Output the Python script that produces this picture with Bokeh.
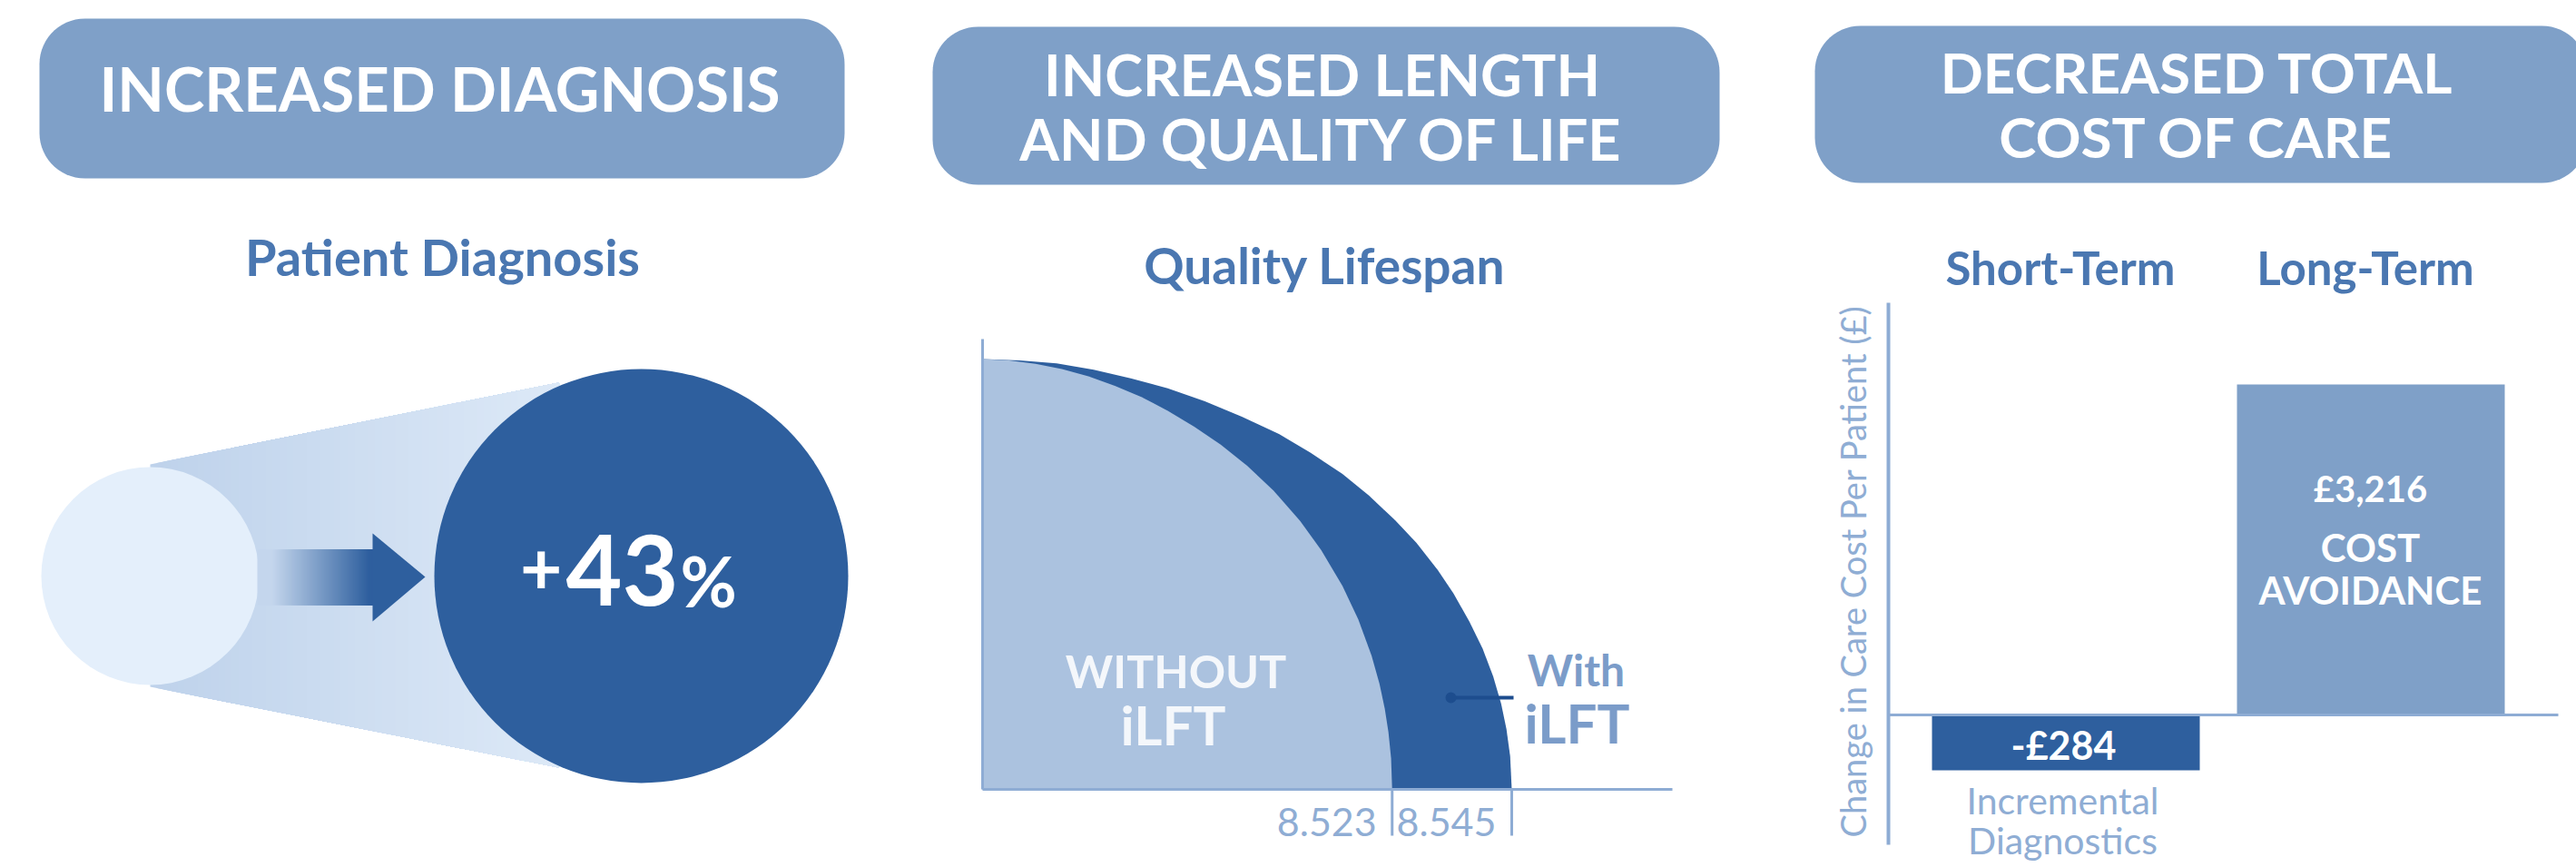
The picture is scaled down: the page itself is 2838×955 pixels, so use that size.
import numpy as np
from bokeh.plotting import figure
from bokeh.models import Range1d
from bokeh.core.properties import value
from bokeh.embed import file_html
from bokeh.resources import INLINE

# ---------------- data ----------------
header_lines = [["INCREASED DIAGNOSIS"],
                ["INCREASED LENGTH", "AND QUALITY OF LIFE"],
                ["DECREASED TOTAL", "COST OF CARE"]]

diagnosis_title = "Patient Diagnosis"
diagnosis_increase_pct = 43

lifespan_title = "Quality Lifespan"
lifespan_groups = ["WITHOUT", "With"]
lifespan_tool = "iLFT"
lifespan_years = [8.523, 8.545]
# survival-quality curves (share of time axis, share of quality axis)
without_t = [0.0, 0.05, 0.10, 0.15, 0.20, 0.25, 0.30, 0.35, 0.40, 0.45, 0.50, 0.55,
             0.60, 0.64, 0.68, 0.71, 0.735, 0.75, 0.76, 0.767, 0.772, 0.774]
without_q = [1.0, 0.997, 0.989, 0.977, 0.960, 0.938, 0.912, 0.880, 0.843, 0.801, 0.752, 0.694,
             0.624, 0.556, 0.473, 0.395, 0.311, 0.246, 0.188, 0.133, 0.072, 0.0]
with_t = [0.0, 0.07, 0.14, 0.21, 0.28, 0.35, 0.42, 0.49, 0.56, 0.62, 0.68, 0.73,
          0.78, 0.82, 0.86, 0.89, 0.92, 0.945, 0.965, 0.98, 0.99, 0.997, 1.0]
with_q = [1.0, 0.997, 0.990, 0.975, 0.955, 0.932, 0.902, 0.866, 0.826, 0.782, 0.733, 0.683,
          0.625, 0.573, 0.510, 0.455, 0.390, 0.327, 0.262, 0.199, 0.140, 0.077, 0.0]

cost_terms = ["Short-Term", "Long-Term"]
cost_values = [-284, 3216]
cost_notes = [["Incremental", "Diagnostics"], ["COST", "AVOIDANCE"]]
cost_axis_label = "Change in Care Cost Per Patient (£)"

# ---------------- styles & layout ----------------
W, H = 2838, 955
FONT = "Lato"
BOX = "#7fa0c8"
DARK = "#2e5f9e"
LIGHT_FILL = "#abc2df"
TITLE = "#4a77b1"
AXIS = "#8eacd4"
SOFT_TEXT = "#8fadd4"
WITH_TEXT = "#7b9cc9"
SMALL_CIRCLE = "#e4effb"
POINTER = "#1d4d8e"
CONE_L = np.array([190, 210, 235])
CONE_R = np.array([221, 233, 247])
ARROW_L = np.array([196, 214, 237])
ARROW_R = np.array([46, 95, 158])
MID = 0.37   # distance from baseline to the middle of the text box, in em


def hexc(rgb):
    r, g, b = [int(round(v)) for v in rgb]
    return "#%02x%02x%02x" % (r, g, b)


p = figure(width=W, height=H, x_range=Range1d(0, W), y_range=Range1d(0, H),
           output_backend="svg", toolbar_location=None, min_border=0,
           x_axis_location=None, y_axis_location=None)
p.grid.visible = False
p.outline_line_color = None
p.background_fill_color = "white"
p.border_fill_color = "white"


def Y(v):
    return H - v


def label(x, base_top, s, size, color, bold=True, align="center", angle=0.0, middle=None):
    """base_top: baseline position measured from the top of the picture."""
    y_top = middle if middle is not None else base_top - MID * size
    p.text(x=[x], y=[Y(y_top)], text=[s], text_font=value(FONT),
           text_font_size=f"{size}px",
           text_font_style="bold" if bold else "normal",
           text_color=color, text_align=align, text_baseline="middle",
           angle=angle)


def rounded_box(l, r, t, b, rad, n=16):
    top, bot = Y(t), Y(b)
    xs, ys = [], []
    for cx, cy, a0, a1 in [(r - rad, top - rad, 90, 0), (r - rad, bot + rad, 0, -90),
                           (l + rad, bot + rad, -90, -180), (l + rad, top - rad, 180, 90)]:
        a = np.radians(np.linspace(a0, a1, n))
        xs += list(cx + rad * np.cos(a))
        ys += list(cy + rad * np.sin(a))
    p.patch(xs, ys, fill_color=BOX, line_color=None)


# ---------------- header boxes ----------------
boxes = [(43, 930, 20, 196), (1027, 1894, 29, 203), (1999, 2850, 28, 201)]
centers = [484, 1456, 2420]
baselines = [[121], [104, 175], [101, 172]]
sizes = [67, 63, 62]
for (l, r, t, b), cx, bl, lines, sz in zip(boxes, centers, baselines, header_lines, sizes):
    rounded_box(l, r, t, b, 50)
    for yb, s in zip(bl, lines):
        label(cx, yb, s, sz, "white")

# ---------------- panel 1 : diagnosis ----------------
label(487, 303, diagnosis_title, 56, TITLE)

SMALL_C = (165, 634, 120)
BIG_C = (706, 634, 228)
cx0, cx1 = 165, 615
top0, top1 = 511, 421
bot0, bot1 = 756, 845
N = 60
cxs, cys, ccol = [], [], []
for i in range(N):
    f = i / N
    x0 = cx0 + (cx1 - cx0) * f
    yt = top0 + (top1 - top0) * f
    yb = bot0 + (bot1 - bot0) * f
    cxs.append([x0, cx1, BIG_C[0], cx1, x0])
    cys.append([Y(yt), Y(top1), Y(BIG_C[1]), Y(bot1), Y(yb)])
    ccol.append(hexc(CONE_L + (CONE_R - CONE_L) * f))
p.patches(cxs, cys, fill_color=ccol, line_color=None)

p.circle(x=[SMALL_C[0]], y=[Y(SMALL_C[1])], radius=SMALL_C[2],
         fill_color=SMALL_CIRCLE, line_color=None)

# arrow shaft with gradient
axs, ays, acol = [], [], []
for x0 in range(283, 411, 2):
    f = min(max((x0 - 298) / (405 - 298), 0.0), 1.0)
    axs.append([x0, 411, 411, x0])
    ays.append([Y(605), Y(605), Y(666), Y(666)])
    acol.append(hexc(ARROW_L + (ARROW_R - ARROW_L) * f))
p.patches(axs, ays, fill_color=acol, line_color=None)
p.patch([410, 468, 410], [Y(587), Y(635), Y(684)], fill_color=DARK, line_color=None)

p.circle(x=[BIG_C[0]], y=[Y(BIG_C[1])], radius=BIG_C[2], fill_color=DARK, line_color=None)
label(619, None, "+", 80, "white", align="right", middle=625)
label(623, 667, f"{diagnosis_increase_pct}", 107, "white", align="left")
label(749, 667, "%", 76, "white", align="left")

# ---------------- panel 2 : lifespan ----------------
label(1459, 312, lifespan_title, 55, TITLE)

LX0, LX1 = 1082, 1665      # px for t = 0 and t = 1
LY0, LY1 = 869, 395        # px (from top) for q = 0 and q = 1
sx = LX1 - LX0
sy = LY0 - LY1
p.extra_x_ranges = {"life_x": Range1d(-LX0 / sx, (W - LX0) / sx)}
p.extra_y_ranges = {"life_y": Range1d(-Y(LY0) / sy, (H - Y(LY0)) / sy)}

p.patch(with_t + [0.0], with_q + [0.0], fill_color=DARK, line_color=None,
        x_range_name="life_x", y_range_name="life_y")
p.patch(without_t + [0.0], without_q + [0.0], fill_color=LIGHT_FILL, line_color=None,
        x_range_name="life_x", y_range_name="life_y")

p.line([0, 0], [0, (LY0 - 373) / sy], line_color=AXIS, line_width=3,
       x_range_name="life_x", y_range_name="life_y")
p.line([0, (1842 - LX0) / sx], [0, 0], line_color=AXIS, line_width=3,
       x_range_name="life_x", y_range_name="life_y")
ends = [without_t[-1], with_t[-1]]
for t_end, yr in zip(ends, lifespan_years):
    p.line([t_end, t_end], [0, -(920 - LY0) / sy], line_color=AXIS, line_width=3,
           x_range_name="life_x", y_range_name="life_y")
    label(LX0 + t_end * sx - 17, 921, f"{yr:.3f}", 43, SOFT_TEXT, bold=False, align="right")

label(1295, 757, lifespan_groups[0], 50, "#f4f7fb")
label(1292, 820, lifespan_tool, 60, "#f4f7fb")
label(1736, 755, lifespan_groups[1], 48, WITH_TEXT)
label(1737, 818, lifespan_tool, 60, WITH_TEXT)
p.line([1598, 1667], [Y(768), Y(768)], line_color=POINTER, line_width=4)
p.circle(x=[1598], y=[Y(768)], radius=6, fill_color=POINTER, line_color=None)

# ---------------- panel 3 : cost ----------------
ZERO_Y, POS_TOP_Y, NEG_BOT_Y = 787, 423, 848
vmax, vmin = max(cost_values), min(cost_values)
k_pos = vmax / (Y(POS_TOP_Y) - Y(ZERO_Y))
k_neg = -vmin / (Y(ZERO_Y) - Y(NEG_BOT_Y))
p.extra_y_ranges.update({
    "cost_pos": Range1d(-Y(ZERO_Y) * k_pos, (H - Y(ZERO_Y)) * k_pos),
    "cost_neg": Range1d(-Y(ZERO_Y) * k_neg, (H - Y(ZERO_Y)) * k_neg),
})

bar_centers = [2275.5, 2611.5]
bar_w = 295
for term, v, bx in zip(cost_terms, cost_values, bar_centers):
    rn = "cost_pos" if v >= 0 else "cost_neg"
    p.quad(left=[bx - bar_w / 2], right=[bx + bar_w / 2], bottom=[0], top=[v],
           fill_color=BOX if v >= 0 else DARK, line_color=None, y_range_name=rn)
    label(bx - 6, 313, term, 51, TITLE)

p.line([2080, 2080], [Y(333), Y(930)], line_color=AXIS, line_width=4)
p.line([2080, 2818], [Y(ZERO_Y), Y(ZERO_Y)], line_color=AXIS, line_width=3)

# negative bar texts
label(2273, 836, f"-£{abs(cost_values[0]):,}", 43, "white")
label(2272, 896, cost_notes[0][0], 41, SOFT_TEXT, bold=False)
label(2272, 940, cost_notes[0][1], 41, SOFT_TEXT, bold=False)
# positive bar texts
label(2611, 552, f"£{cost_values[1]:,}", 40, "white")
label(2611, 618, cost_notes[1][0], 42, "white")
label(2611, 665, cost_notes[1][1], 42, "white")

label(2040, None, cost_axis_label, 38, SOFT_TEXT, bold=False, angle=np.pi / 2,
      middle=629)

open("out.html", "w").write(file_html(p, INLINE))
